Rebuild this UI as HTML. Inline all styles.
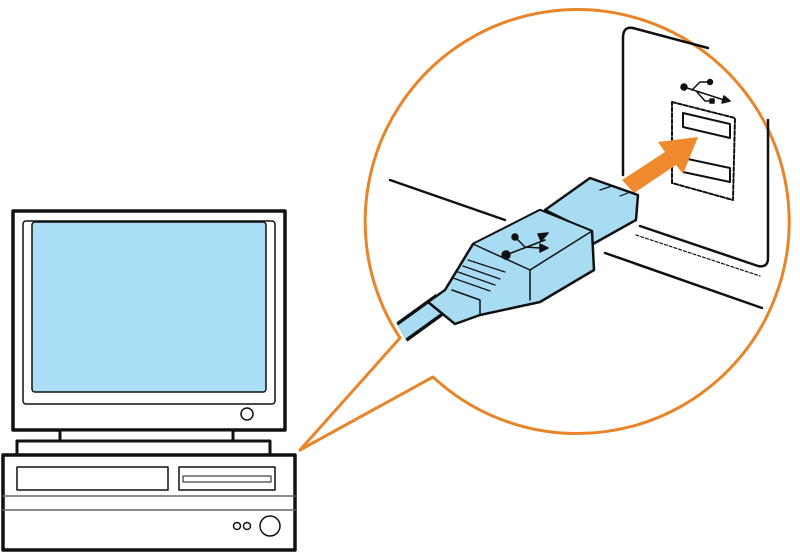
<!DOCTYPE html>
<html><head><style>body{margin:0;background:#fff}svg{display:block}</style></head><body>
<svg width="800" height="553" viewBox="0 0 800 553" xmlns="http://www.w3.org/2000/svg" stroke-linejoin="round" stroke-linecap="round">
<defs><clipPath id="c"><circle cx="585" cy="228" r="211"/></clipPath></defs>
<path d="M400,338 A212,212 0 1 1 433,377 L300,450 Z" fill="#fff" stroke="#e8852a" stroke-width="3"/>
<g stroke="#111" stroke-width="2.5" fill="none">
<path d="M390,180 L505,220"/>
<path d="M605,253 L762,308"/>
<path d="M633,28 Q623,26 623,38 L623,175"/>
<path d="M633,28 L708,48"/>
<path d="M768,120 L768,258 Q768,268 758,266 L640,226"/>
<path d="M636,235 L760,276" stroke-width="1.2" stroke-dasharray="3,2"/>
</g>
<g stroke="#111" stroke-width="2" fill="#fff">
<path d="M672,102 L735,118 L733,200 L672,183 Z" fill="none" stroke-dasharray="4,2"/>
<path d="M683,113 L730,124 L730,138 L683,127 Z"/>
<path d="M683,158 L730,168 L730,182 L683,172 Z"/>
</g>
<g fill="#111" stroke="#111" stroke-width="1.5">
<circle cx="684" cy="87" r="3"/><path d="M684,87 L724,100" fill="none"/><path d="M692,90 L700,82 L708,82" fill="none"/><circle cx="710" cy="82" r="2.5"/><path d="M697,92 L705,101 L712,101" fill="none"/><rect x="710" y="99" width="4" height="4"/><path d="M724,96 L730,101 L722,103 Z"/>
</g>
<path d="M622,180 L665,152 L658,142 L698,137 L683,174 L676,165 L634,193 Z" fill="#f08a2e"/>
<g clip-path="url(#c)">
<path d="M370,355 L442,303" stroke="#111" stroke-width="22" stroke-linecap="butt"/>
<path d="M370,355 L442,303" stroke="#a8dcf2" stroke-width="15" stroke-linecap="butt"/>
</g>
<g stroke="#111" stroke-width="2.5" fill="#a8dcf2">
<path d="M545,210 L590,178 L638,195 L636,220 L593,244 L590,232 Z"/>
<path d="M428,302 L445,290 L473,244 L540,210 L592,231 L594,270 L540,302 L480,315 L455,324 Z"/>
<path d="M473,244 L540,210 L592,231 L530,270 Z" stroke-width="1.5"/>
<path d="M530,270 L530,300 M452,290 L480,300 L480,315" fill="none" stroke-width="1.5"/>
</g>
<g stroke="#111" stroke-width="1.2" fill="none">
<path d="M468,260 L505,272 M463,266 L500,279 M458,272 L495,285 M453,278 L490,291"/>
<path d="M600,190 L612,186 M620,196 L628,193"/>
</g>
<g fill="#111" stroke="#111" stroke-width="1.5">
<circle cx="506" cy="255" r="4"/><circle cx="515" cy="237" r="3"/><path d="M506,255 L545,240 M515,237 L525,247 L540,248" fill="none"/><path d="M538,234 L548,233 L541,241 Z"/><path d="M540,244 L548,248 L540,252 Z"/>
</g>
<g stroke="#111" fill="#fff">
<rect x="13" y="211" width="272" height="219" stroke-width="3.5"/>
<rect x="23" y="221" width="252" height="183" rx="3" stroke-width="1.5"/>
<rect x="32" y="222" width="234" height="170" rx="3" fill="#a9dff6" stroke-width="1.5"/>
<circle cx="247" cy="414" r="6" stroke-width="1.5"/>
<rect x="60" y="430" width="173" height="11" stroke-width="3"/>
<rect x="17" y="441" width="253" height="14" stroke-width="3"/>
<rect x="3" y="455" width="292" height="95" stroke-width="3.5"/>
<rect x="17" y="467" width="151" height="23" stroke-width="1.5"/>
<rect x="179" y="467" width="96" height="23" stroke-width="1.5"/>
<rect x="183" y="476" width="88" height="6" stroke-width="1"/>
<path d="M3,496 L295,496 M3,510 L295,510" stroke-width="1.5" stroke="#666"/>
<circle cx="237" cy="526" r="3.5" stroke-width="1.5"/>
<circle cx="247" cy="526" r="3.5" stroke-width="1.5"/>
<circle cx="270" cy="526" r="10" stroke-width="1.5"/>
</g>
</svg>
</body></html>
